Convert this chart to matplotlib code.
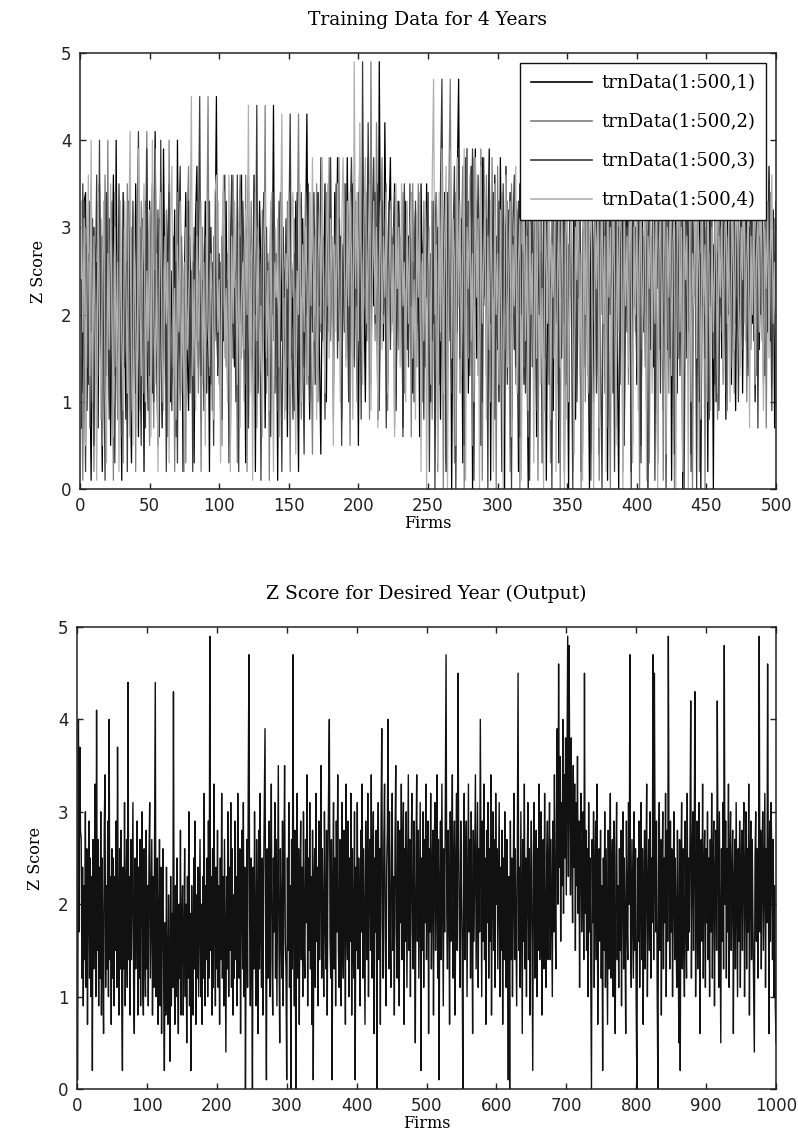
import numpy as np
import matplotlib
matplotlib.use("Agg")
import matplotlib.pyplot as plt

# ---------------- data (Z scores in tenths) ----------------
# Training record: the four year-columns are lagged 6-firm windows of this record
trn_record = [
    24, 11, 33, 34, 9, 27, 15, 1, 22, 30, 14, 26, 7, 35, 19, 2, 28, 12, 33, 18,
    31, 5, 23, 36, 13, 40, 10, 29, 17, 1, 34, 20, 8, 25, 33, 12, 3, 27, 16, 35,
    21, 6, 30, 14, 26, 2, 33, 18, 9, 33, 24, 11, 29, 41, 15, 5, 31, 19, 7, 39,
    22, 13, 28, 35, 10, 25, 17, 32, 6, 40, 20, 12, 27, 2, 24, 34, 16, 9, 29, 19,
    26, 3, 31, 37, 14, 23, 8, 28, 18, 33, 11, 25, 2, 30, 16, 21, 27, 45, 13, 24,
    9, 29, 17, 22, 33, 12, 26, 5, 31, 19, 14, 27, 21, 8, 34, 36, 18, 24, 3, 28,
    36, 15, 23, 10, 36, 2, 29, 19, 33, 25, 12, 30, 7, 22, 26, 16, 32, 20, 44, 11,
    27, 1, 24, 34, 17, 30, 13, 21, 6, 28, 34, 15, 25, 9, 33, 18, 2, 26, 22, 31,
    14, 29, 43, 19, 8, 27, 23, 34, 12, 31, 34, 16, 4, 25, 20, 35, 10, 28, 18, 30,
    24, 13, 34, 21, 38, 17, 29, 8, 26, 32, 19, 38, 22, 11, 27, 35, 15, 31, 24, 5,
    28, 18, 35, 22, 10, 30, 38, 25, 14, 33, 21, 34, 27, 8, 49, 23, 34, 17, 42, 26,
    12, 31, 38, 19, 27, 35, 9, 24, 33, 20, 30, 7, 26, 33, 16, 29, 22, 34, 11, 25,
    32, 18, 28, 6, 35, 23, 30, 14, 35, 21, 26, 10, 33, 19, 29, 34, 15, 24, 8, 31,
    22, 34, 2, 27, 17, 33, 0, 25, 30, 12, 35, 47, 20, 28, 3, 34, 18, 39, 11, 29,
    37, 0, 24, 39, 15, 31, 26, 5, 38, 21, 33, 13, 28, 39, 1, 30, 23, 36, 17, 27,
    10, 38, 22, 31, 0, 37, 19, 26, 34, 8, 29, 16, 33, 24, 2, 35, 20, 27, 12, 32,
    18, 0, 30, 36, 14, 25, 33, 6, 28, 21, 37, 11, 26, 31, 1, 24, 34, 17, 29, 9,
    33, 20, 27, 3, 35, 15, 30, 38, 12, 23, 0, 32, 26, 19, 36, 8, 28, 22, 34, 2,
    25, 31, 14, 37, 21, 0, 29, 33, 10, 26, 35, 18, 4, 30, 24, 36, 13, 27, 1, 32,
    20, 34, 11, 28, 38, 16, 0, 31, 23, 35, 7, 26, 33, 19, 29, 2, 36, 22, 30, 12,
    34, 25, 5, 31, 18, 37, 27, 0, 33, 21, 29, 14, 36, 24, 3, 30, 20, 35, 9, 28,
    32, 16, 26, 38, 1, 29, 23, 34, 11, 31, 19, 36, 0, 27, 33, 15, 25, 37, 4, 30,
    22, 35, 13, 28, 32, 0, 26, 38, 18, 30, 2, 34, 24, 29, 0, 33, 10, 27, 21, 36,
    15, 31, 25, 8, 34, 20, 28, 12, 37, 23, 9, 30, 18, 26, 35, 11, 29, 22, 33, 14,
    27, 36, 19, 31, 10, 25, 33, 16, 28, 35, 21, 13, 30, 24, 37, 17, 26, 32, 7, 29,
    20, 34, 12, 27, 31, 18, 35, 25, 9, 30, 23, 33, 15, 28, 36, 19, 26, 11, 32, 22,
]
year_lag = 6          # firms between consecutive year columns
n_train = 500
trn_labels = ["trnData(1:500,1)", "trnData(1:500,2)",
              "trnData(1:500,3)", "trnData(1:500,4)"]

# Output (desired year) Z scores, tenths, firms 1..1000
z_output = [
    1, 40, 17, 37, 28, 27, 12, 24, 9, 22, 14, 30, 11, 26, 7, 21, 29, 12, 25, 10, 23, 2, 27, 13, 22,
    33, 10, 41, 15, 27, 9, 24, 12, 30, 8, 25, 14, 6, 28, 34, 11, 22, 13, 29, 10, 40, 14, 23, 7, 26,
    12, 25, 9, 23, 15, 29, 11, 37, 18, 8, 26, 13, 28, 10, 2, 24, 13, 31, 9, 21, 27, 11, 44, 14, 23,
    8, 27, 14, 23, 31, 11, 6, 25, 13, 22, 29, 8, 24, 12, 27, 9, 23, 30, 11, 8, 26, 15, 10, 28, 13,
    22, 9, 25, 31, 12, 20, 27, 8, 23, 11, 28, 44, 10, 21, 25, 7, 18, 27, 9, 24, 6, 20, 26, 11, 2,
    18, 8, 24, 12, 7, 21, 13, 3, 23, 9, 19, 11, 43, 14, 7, 22, 10, 25, 13, 6, 20, 12, 28, 8, 18,
    22, 8, 16, 26, 10, 20, 5, 23, 12, 30, 9, 19, 2, 22, 12, 8, 25, 13, 29, 7, 21, 12, 24, 10, 18,
    27, 10, 20, 7, 23, 12, 32, 9, 22, 14, 25, 10, 29, 12, 49, 15, 23, 8, 26, 11, 33, 18, 9, 24, 13,
    28, 11, 22, 7, 25, 14, 32, 12, 23, 9, 27, 16, 4, 23, 13, 30, 10, 24, 15, 31, 11, 26, 8, 21, 12,
    29, 14, 23, 9, 32, 17, 12, 26, 6, 22, 28, 13, 31, 10, 24, 0, 17, 27, 11, 33, 47, 18, 9, 25, 14,
    0, 24, 13, 30, 16, 9, 27, 18, 6, 28, 13, 32, 17, 11, 25, 8, 23, 31, 39, 14, 1, 26, 12, 22, 29,
    10, 23, 33, 14, 8, 25, 17, 31, 12, 27, 9, 23, 35, 15, 5, 26, 18, 12, 29, 9, 24, 35, 16, 13, 1,
    25, 15, 31, 11, 22, 0, 27, 13, 47, 17, 9, 28, 0, 23, 32, 12, 26, 7, 22, 29, 14, 24, 10, 30, 16,
    12, 27, 18, 34, 9, 25, 15, 31, 13, 23, 7, 28, 1, 22, 26, 11, 32, 16, 24, 9, 29, 14, 22, 35, 12,
    26, 17, 10, 30, 19, 13, 28, 8, 24, 33, 40, 16, 12, 27, 1, 22, 31, 13, 25, 9, 29, 17, 34, 15, 11,
    27, 19, 9, 31, 17, 12, 28, 20, 7, 33, 18, 14, 29, 10, 25, 16, 32, 8, 26, 17, 12, 30, 1, 24, 15,
    31, 13, 25, 18, 9, 28, 17, 33, 12, 26, 16, 7, 29, 19, 14, 32, 10, 24, 27, 15, 34, 12, 22, 30, 6,
    25, 17, 28, 0, 23, 31, 14, 26, 7, 29, 39, 18, 12, 27, 33, 16, 9, 24, 28, 40, 13, 30, 18, 11, 26,
    32, 15, 23, 8, 27, 35, 17, 12, 29, 20, 9, 28, 18, 33, 14, 25, 31, 7, 26, 16, 30, 11, 23, 34, 15,
    27, 10, 24, 32, 17, 13, 29, 19, 5, 26, 34, 16, 28, 12, 22, 31, 2, 25, 15, 30, 11, 27, 18, 33, 14,
    24, 29, 6, 26, 17, 32, 13, 23, 28, 8, 25, 31, 15, 22, 34, 12, 27, 1, 22, 29, 14, 33, 20, 9, 26,
    17, 31, 47, 19, 13, 28, 21, 7, 30, 16, 26, 34, 12, 22, 29, 8, 24, 32, 15, 45, 27, 17, 11, 29, 21,
    15, 0, 26, 32, 14, 24, 29, 10, 22, 33, 17, 27, 12, 30, 19, 6, 28, 16, 25, 34, 13, 22, 31, 11, 26,
    17, 40, 24, 10, 29, 16, 33, 14, 25, 7, 28, 18, 31, 12, 26, 16, 34, 8, 23, 30, 15, 27, 11, 32, 20,
    26, 13, 22, 31, 10, 24, 15, 28, 7, 25, 14, 30, 17, 11, 27, 16, 1, 23, 0, 29, 14, 25, 10, 22, 32,
    14, 26, 17, 9, 28, 45, 15, 24, 11, 30, 18, 6, 27, 16, 33, 13, 25, 10, 23, 31, 14, 26, 8, 22, 29,
    16, 2, 25, 31, 12, 23, 28, 10, 26, 15, 33, 14, 24, 30, 8, 22, 27, 13, 32, 17, 11, 25, 29, 14, 24,
    31, 14, 27, 19, 10, 29, 17, 34, 21, 13, 30, 39, 20, 46, 24, 36, 16, 31, 22, 40, 19, 34, 25, 38, 21,
    35, 49, 23, 48, 32, 21, 38, 26, 18, 35, 24, 33, 15, 31, 22, 36, 19, 29, 11, 27, 32, 17, 25, 30, 14,
    45, 19, 28, 15, 26, 10, 31, 17, 25, 12, 0, 27, 18, 30, 11, 24, 29, 14, 33, 7, 23, 26, 16, 28, 12,
    22, 2, 25, 15, 30, 11, 26, 17, 7, 28, 13, 24, 32, 12, 23, 27, 10, 29, 16, 6, 25, 31, 14, 22, 11,
    26, 15, 28, 9, 23, 30, 13, 25, 17, 6, 29, 18, 14, 31, 20, 47, 16, 11, 27, 19, 12, 30, 15, 26, 9,
    0, 25, 16, 29, 11, 23, 31, 14, 26, 7, 22, 28, 13, 24, 33, 10, 21, 27, 15, 30, 12, 25, 18, 47, 14,
    45, 26, 17, 29, 11, 0, 24, 31, 15, 27, 8, 23, 30, 13, 25, 18, 32, 10, 28, 16, 49, 24, 13, 29, 17,
    26, 10, 23, 30, 14, 25, 17, 11, 28, 18, 5, 27, 2, 24, 31, 13, 26, 16, 10, 29, 19, 12, 32, 15, 25,
    17, 28, 42, 12, 24, 30, 15, 26, 43, 10, 22, 29, 13, 25, 31, 6, 23, 27, 16, 33, 12, 24, 28, 11, 26,
    18, 30, 14, 25, 10, 27, 17, 32, 12, 24, 29, 9, 23, 28, 15, 42, 25, 11, 30, 18, 5, 26, 16, 31, 13,
    48, 20, 29, 12, 26, 17, 33, 11, 25, 30, 15, 23, 28, 6, 22, 27, 13, 31, 20, 10, 26, 16, 29, 11, 23,
    28, 15, 25, 31, 10, 23, 30, 13, 26, 17, 33, 8, 24, 29, 14, 27, 18, 11, 4, 25, 30, 16, 26, 12, 23,
    49, 17, 28, 13, 25, 30, 15, 23, 32, 11, 26, 18, 46, 24, 6, 29, 16, 31, 25, 14, 27, 10, 22, 9, 5,
]

top_title = "Training Data for 4 Years"
bottom_title = "Z Score for Desired Year (Output)"
x_label = "Firms"
y_label = "Z Score"
top_xticks = [0, 50, 100, 150, 200, 250, 300, 350, 400, 450, 500]
bottom_xticks = [0, 100, 200, 300, 400, 500, 600, 700, 800, 900, 1000]
yticks = [0, 1, 2, 3, 4, 5]

# ---------------- styling ----------------
W, H = 798, 1136
fig = plt.figure(figsize=(W / 100, H / 100), dpi=100)
serif = ["DejaVu Serif"]
sans = ["DejaVu Sans"]
series_colors = ["#000000", "#7f7f7f", "#3a3a3a", "#b0b0b0"]


def fpos(l, t, r, b):
    return [l / W, 1 - b / H, (r - l) / W, (b - t) / H]


def style(ax, xticks, xmax):
    ax.set_xlim(0, xmax)
    ax.set_ylim(0, 5)
    ax.set_xticks(xticks)
    ax.set_yticks(yticks)
    ax.tick_params(direction="in", length=4, width=1, top=True, right=True,
                   labelsize=12, pad=6, colors="#222222")
    for lab in ax.get_xticklabels() + ax.get_yticklabels():
        lab.set_family(sans)
    for s in ax.spines.values():
        s.set_linewidth(1.1)
        s.set_color("#222222")
    ax.set_xlabel(x_label, family=serif, fontsize=11.5, labelpad=0)
    ax.set_ylabel(y_label, family=serif, fontsize=11.5, labelpad=10)


# top panel
ax1 = fig.add_axes(fpos(80, 53, 776, 489))
rec = np.asarray(trn_record, dtype=float) / 10.0
x_top = np.arange(1, n_train + 1)
handles = []
for k in range(4):
    y = rec[k * year_lag: k * year_lag + n_train]
    h, = ax1.plot(x_top, y, color=series_colors[k], lw=0.9, label=trn_labels[k])
    handles.append(h)
style(ax1, top_xticks, 500)
ax1.set_title(top_title, family=serif, fontsize=13.5, pad=20)
leg = ax1.legend(handles=handles, loc="upper right",
                 bbox_to_anchor=(766 / W, 1 - 63 / H), bbox_transform=fig.transFigure,
                 prop={"family": serif, "size": 13}, frameon=True, fancybox=False,
                 framealpha=1, edgecolor="#111111", handlelength=3.4, handletextpad=0.5,
                 labelspacing=1.17, borderpad=0.6, borderaxespad=0)
leg.get_frame().set_linewidth(1.0)
for lh in leg.get_lines():
    lh.set_linewidth(1.2)

# bottom panel
ax2 = fig.add_axes(fpos(77, 627, 776, 1089))
z = np.asarray(z_output, dtype=float) / 10.0
x_bot = np.arange(1, len(z) + 1)
ax2.plot(x_bot, z, color="#111111", lw=1.0)
style(ax2, bottom_xticks, 1000)
ax2.set_title(bottom_title, family=serif, fontsize=13.5, pad=20)

fig.savefig("out.png", dpi=100)
